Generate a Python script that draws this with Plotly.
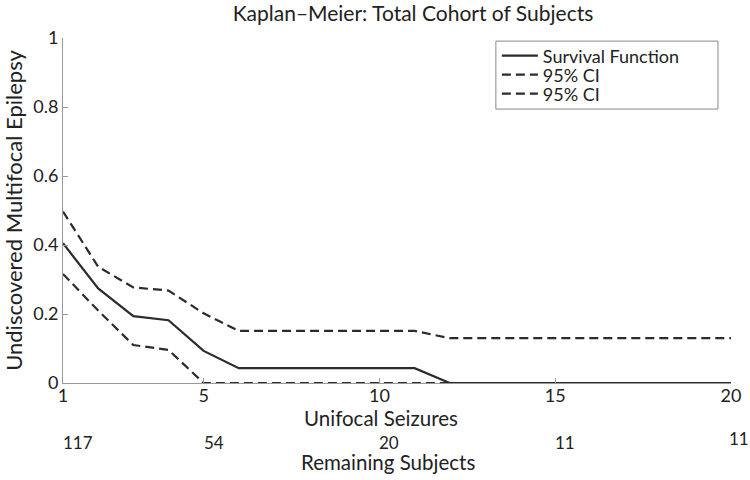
import plotly.graph_objects as go

seizures = [1, 2, 3, 4, 5, 6, 7, 8, 9, 10, 11, 12, 13, 14, 15, 16, 17, 18, 19, 20]
survival = [0.405, 0.274, 0.194, 0.182, 0.093, 0.043, 0.043, 0.043, 0.043, 0.043, 0.043,
            0, 0, 0, 0, 0, 0, 0, 0, 0]
ci_upper = [0.497, 0.337, 0.277, 0.268, 0.202, 0.151, 0.151, 0.151, 0.151, 0.151, 0.151,
            0.13, 0.13, 0.13, 0.13, 0.13, 0.13, 0.13, 0.13, 0.13]
ci_lower = [0.316, 0.21, 0.11, 0.096, 0, 0, 0, 0, 0, 0, 0,
            0, 0, 0, 0, 0, 0, 0, 0, 0]

x_ticks = [1, 5, 10, 15, 20]
remaining_counts = ["117", "54", "20", "11", "11"]
y_ticks = [0, 0.2, 0.4, 0.6, 0.8, 1]
y_tick_labels = ["0", "0.2", "0.4", "0.6", "0.8", "1"]

FONT = "Lato"
INK = "#2b2b2b"
TXT = "#222"
DASH = "9px,5px"

W, H = 750, 480

fig = go.Figure()
fig.add_trace(go.Scatter(x=seizures, y=survival, mode="lines", name="Survival Function",
                         legend="legend", line=dict(color=INK, width=2.2)))
fig.add_trace(go.Scatter(x=seizures, y=ci_upper, mode="lines", name="95% CI",
                         legend="legend2", line=dict(color=INK, width=2.2, dash=DASH)))
fig.add_trace(go.Scatter(x=seizures, y=ci_lower, mode="lines", name="95% CI",
                         legend="legend3", line=dict(color=INK, width=2.2, dash=DASH)))

annotations = []
for i, (xv, label) in enumerate(zip(x_ticks, remaining_counts)):
    last = i == len(x_ticks) - 1
    annotations.append(dict(x=xv, y=0, xref="x", yref="paper", text=label, showarrow=False,
                            xanchor="left", yanchor="middle",
                            yshift=-55 if last else -59, xshift=-4 if last else -2,
                            font=dict(family=FONT, size=17, color=TXT)))
annotations.append(dict(x=0.476, y=0, xref="paper", yref="paper", text="Unifocal Seizures",
                        showarrow=False, xanchor="center", yanchor="middle", yshift=-35,
                        font=dict(family=FONT, size=20.5, color=TXT)))
annotations.append(dict(x=0.4865, y=0, xref="paper", yref="paper", text="Remaining Subjects",
                        showarrow=False, xanchor="center", yanchor="middle", yshift=-79,
                        font=dict(family=FONT, size=20.5, color=TXT)))

leg_common = dict(xanchor="left", x=0.6495, yanchor="middle", bgcolor="rgba(0,0,0,0)",
                  borderwidth=0, font=dict(family=FONT, size=18, color=TXT), itemwidth=36)

fig.update_layout(
    width=W, height=H,
    margin=dict(l=63, r=19, t=38, b=97),
    paper_bgcolor="white", plot_bgcolor="white",
    font=dict(family=FONT, color=TXT),
    title=dict(text="Kaplan–Meier: Total Cohort of Subjects", x=0.5507, xanchor="center",
               y=0.9708, yanchor="middle", font=dict(family=FONT, size=21, color=TXT)),
    showlegend=True,
    legend=dict(y=0.948, **leg_common),
    legend2=dict(y=0.893, **leg_common),
    legend3=dict(y=0.838, **leg_common),
    shapes=[dict(type="rect", xref="paper", yref="paper", x0=0.648, x1=0.9805,
                 y0=0.794, y1=0.991, line=dict(color="#888", width=1),
                 fillcolor="white", layer="below")],
    annotations=annotations,
)
fig.update_xaxes(range=[1, 20], tickvals=x_ticks, ticktext=[str(v) for v in x_ticks],
                 automargin=False,
                 showgrid=False, zeroline=False, showline=True, linecolor="#999", linewidth=1,
                 ticks="inside", ticklen=5, tickcolor="#999", ticklabelstandoff=-4,
                 tickfont=dict(family=FONT, size=18, color=TXT))
fig.update_yaxes(range=[0, 1], tickvals=y_ticks, ticktext=y_tick_labels,
                 automargin=False,
                 showgrid=False, zeroline=False, showline=True, linecolor="#999", linewidth=1,
                 ticks="inside", ticklen=5, tickcolor="#999",
                 tickfont=dict(family=FONT, size=18, color=TXT),
                 title=dict(text="Undiscovered Multifocal Epilepsy", standoff=13,
                            font=dict(family=FONT, size=22, color=TXT)))

# remove the browser's default 8px body margin so the figure fills the window
fig.write_html("out.html", config={"displayModeBar": False},
               post_script="document.body.style.margin='0px';")
